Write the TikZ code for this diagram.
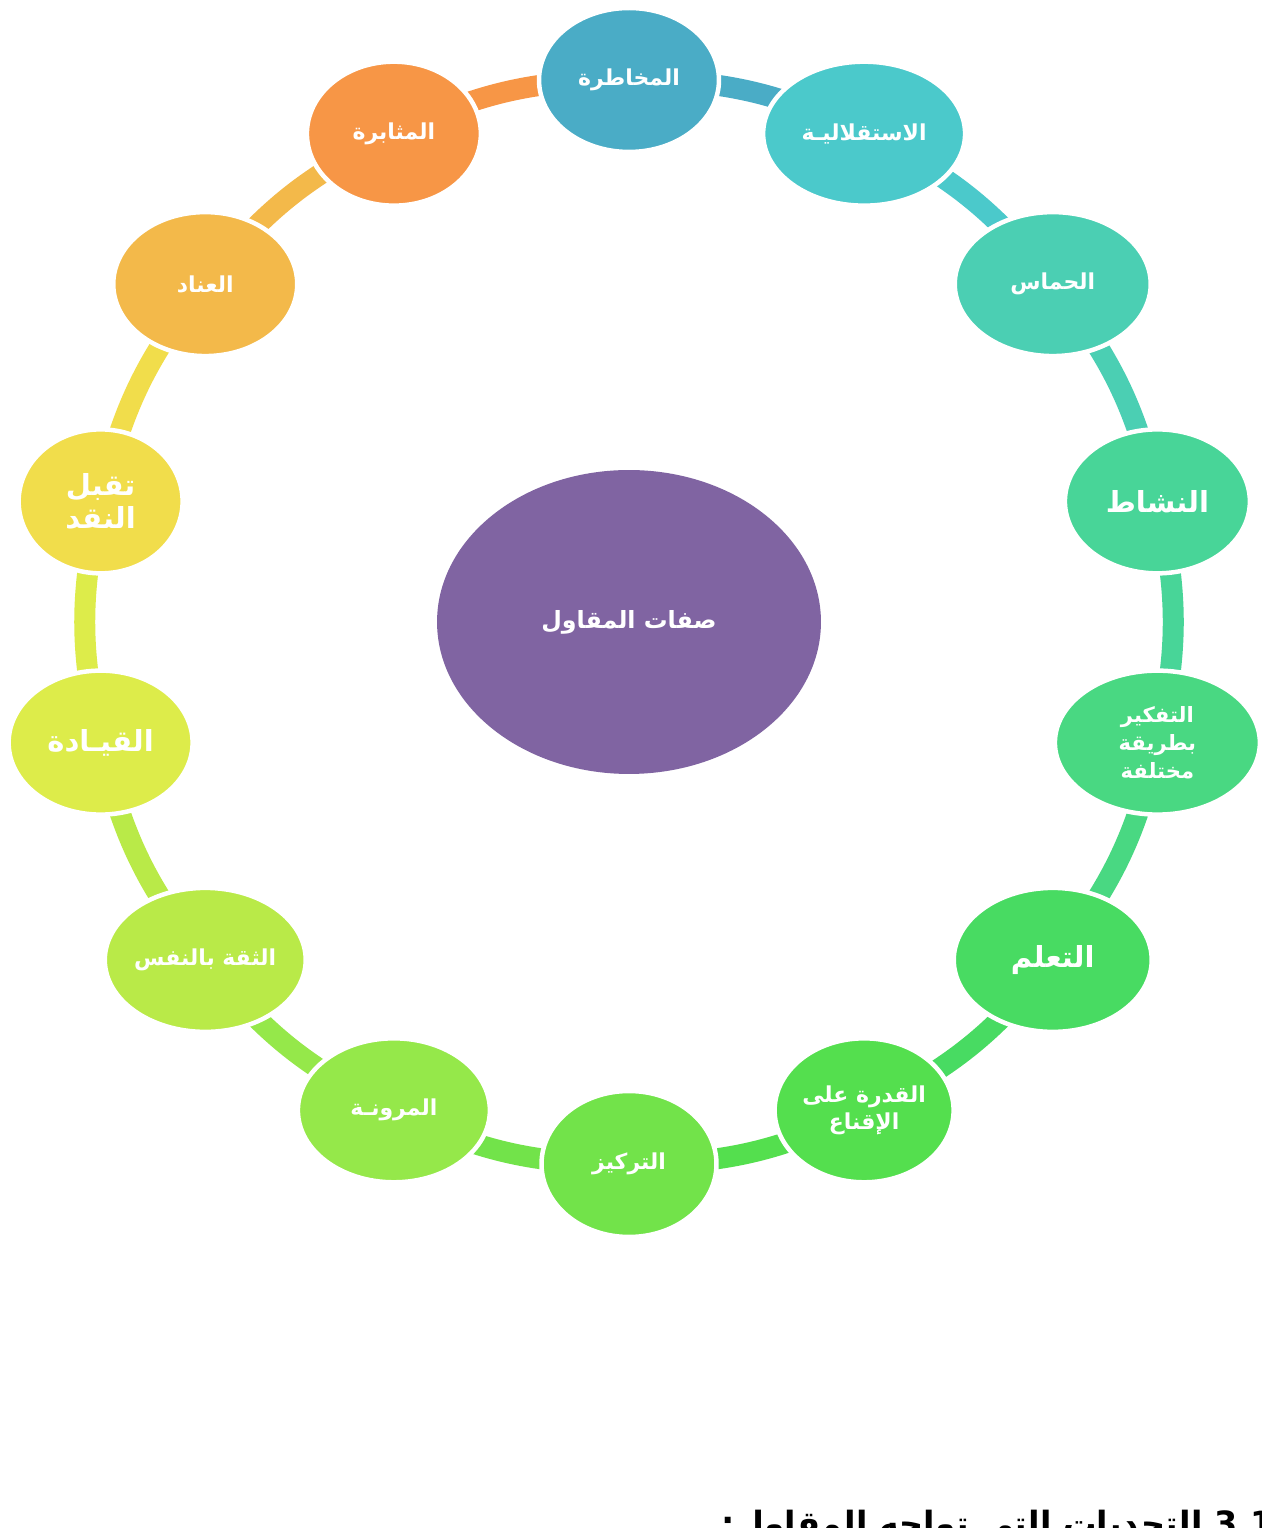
\documentclass[tikz,border=0pt]{standalone}
\usepackage{fontspec}
\newfontfamily\arabicfont[Script=Arabic]{DejaVu Sans}
\TeXXeTstate=1
\usetikzlibrary{shapes.geometric,backgrounds}
\newcommand{\ar}[1]{\beginR #1\endR}

\definecolor{riskblue}{HTML}{4AACC6}
\definecolor{indepcyan}{HTML}{4BC9CB}
\definecolor{zealteal}{HTML}{4BCFB3}
\definecolor{activgreen}{HTML}{48D598}
\definecolor{thinkgreen}{HTML}{49D882}
\definecolor{learngreen}{HTML}{48DB62}
\definecolor{persugreen}{HTML}{54DF4E}
\definecolor{focusgreen}{HTML}{72E34A}
\definecolor{flexgreen}{HTML}{95E84A}
\definecolor{trustlime}{HTML}{B9EA48}
\definecolor{leadlime}{HTML}{DDEC4A}
\definecolor{criticyellow}{HTML}{F1DD4B}
\definecolor{stubborange}{HTML}{F3B94A}
\definecolor{perseorange}{HTML}{F79646}
\definecolor{hubpurple}{HTML}{8064A2}

\begin{document}
\begin{tikzpicture}[x=0.02cm,y=0.02cm,
	trait/.style={ellipse,draw=white,line width=0.09cm,minimum height=2.88cm,inner sep=0pt,
		text=white,align=center,font=\arabicfont\bfseries\fontsize{12.5}{15}\selectfont},
	bigtrait/.style={trait,font=\arabicfont\bfseries\fontsize{16.5}{19}\selectfont},
	ring/.style={line width=0.42cm}]
	\useasboundingbox (0,0) rectangle (1261,1528);
	%\draw [help lines,step=100] (0,0) grid (1261,1528);
	\node[trait,draw=none,fill=hubpurple,minimum width=7.68cm,minimum height=6.08cm,font=\arabicfont\bfseries\fontsize{13.5}{16}\selectfont] (hub) at (629,906) {\ar{صفات المقاول}};
	\node[trait,fill=riskblue,minimum width=3.6cm] (risk) at ([shift={(90:542)}]hub) {\ar{المخاطرة}};
	\node[trait,fill=indepcyan,minimum width=4.04cm] (indep) at ([shift={(64.29:542)}]hub) {\ar{الاستقلاليـة}};
	\node[trait,fill=zealteal,minimum width=3.92cm] (zeal) at ([shift={(38.57:542)}]hub) {\ar{الحماس}};
	\node[bigtrait,fill=activgreen,minimum width=3.7cm] (activ) at ([shift={(12.86:542)}]hub) {\ar{النشاط}};
	\node[trait,fill=thinkgreen,minimum width=4.1cm,font=\arabicfont\bfseries\fontsize{12}{16}\selectfont] (think) at ([shift={(-12.86:542)}]hub) {\ar{التفكير}\\\ar{بطريقة}\\\ar{مختلفة}};
	\node[bigtrait,fill=learngreen,minimum width=3.96cm] (learn) at ([shift={(-38.57:542)}]hub) {\ar{التعلم}};
	\node[trait,fill=persugreen,minimum width=3.58cm] (persu) at ([shift={(-64.29:542)}]hub) {\ar{القدرة على}\\\ar{الإقناع}};
	\node[trait,fill=focusgreen,minimum width=3.5cm,minimum height=2.92cm] (focus) at ([shift={(-90:542)}]hub) {\ar{التركيز}};
	\node[trait,fill=flexgreen,minimum width=3.84cm] (flex) at ([shift={(-115.71:542)}]hub) {\ar{المرونـة}};
	\node[trait,fill=trustlime,minimum width=3.92cm] (trust) at ([shift={(-141.43:542)}]hub) {\ar{الثقة بالنفس}};
	\node[bigtrait,fill=leadlime,minimum width=3.68cm] (lead) at ([shift={(-167.14:542)}]hub) {\ar{القيـادة}};
	\node[bigtrait,fill=criticyellow,minimum width=3.28cm] (critic) at ([shift={(167.14:542)}]hub) {\ar{تقبل}\\\ar{النقد}};
	\node[trait,fill=stubborange,minimum width=3.68cm] (stubb) at ([shift={(141.43:542)}]hub) {\ar{العناد}};
	\node[trait,fill=perseorange,minimum width=3.48cm] (perse) at ([shift={(115.71:542)}]hub) {\ar{المثابرة}};
	% ring segments, each in the colour of the node it leaves
	\begin{pgfonlayer}{background}
		\fill[white] (0,0) rectangle (1261,1528);
		\draw[ring,riskblue] (risk.center) to[bend left=13] (indep.center);
		\draw[ring,indepcyan] (indep.center) to[bend left=13] (zeal.center);
		\draw[ring,zealteal] (zeal.center) to[bend left=13] (activ.center);
		\draw[ring,activgreen] (activ.center) to[bend left=13] (think.center);
		\draw[ring,thinkgreen] (think.center) to[bend left=13] (learn.center);
		\draw[ring,learngreen] (learn.center) to[bend left=13] (persu.center);
		\draw[ring,persugreen] (persu.center) to[bend left=13] (focus.center);
		\draw[ring,focusgreen] (focus.center) to[bend left=13] (flex.center);
		\draw[ring,flexgreen] (flex.center) to[bend left=13] (trust.center);
		\draw[ring,trustlime] (trust.center) to[bend left=13] (lead.center);
		\draw[ring,leadlime] (lead.center) to[bend left=13] (critic.center);
		\draw[ring,criticyellow] (critic.center) to[bend left=13] (stubb.center);
		\draw[ring,stubborange] (stubb.center) to[bend left=13] (perse.center);
		\draw[ring,perseorange] (perse.center) to[bend left=13] (risk.center);
	\end{pgfonlayer}
	\node[anchor=base east,inner sep=0pt,font=\arabicfont\bfseries\fontsize{19}{22}\selectfont] (heading) at (1274,-8) {\ar{\beginL 3.1\endL{}  التحديات التي تواجه المقاول:}};
\end{tikzpicture}
\end{document}
